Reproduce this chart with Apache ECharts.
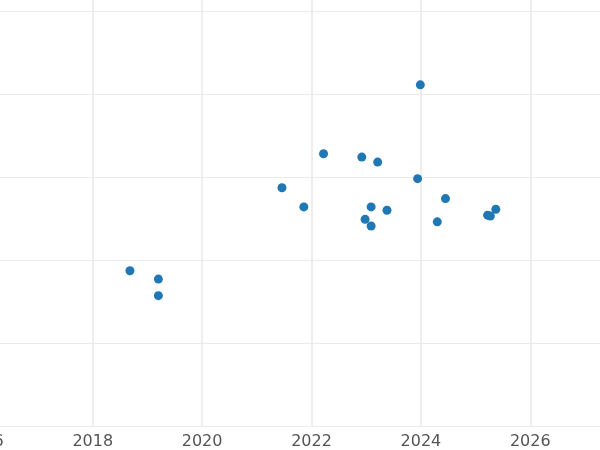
<!DOCTYPE html>
<html>
<head>
<meta charset="utf-8">
<script src="https://cdn.jsdelivr.net/npm/echarts@6/dist/echarts.min.js"></script>
</head>
<body style="margin:0px;overflow:hidden;">
<div style="width:600px;height:450px;overflow:hidden;position:relative;">
<div id="main" style="width:703px;height:522px;position:absolute;left:-40px;top:-72px;"></div>
</div>
<script type="text/javascript">
var years = [2018.68, 2019.2, 2019.2, 2021.46, 2021.86, 2022.22, 2022.92, 2023.21, 2023.09, 2022.98,
             2023.09, 2023.38, 2023.94, 2023.99, 2024.45, 2024.3, 2025.22, 2025.27, 2025.37];
var values = [1.87, 1.77, 1.57, 2.87, 2.64, 3.28, 3.24, 3.18, 2.64, 2.49,
              2.41, 2.60, 2.98, 4.11, 2.74, 2.46, 2.54, 2.53, 2.61];

var points = years.map(function (y, i) { return [y, values[i]]; });

var chart = echarts.init(document.getElementById('main'));
chart.setOption({
    animation: false,
    grid: { left: 0, right: 0, top: 0, bottom: 24 },
    xAxis: {
        type: 'value', min: 2016, max: 2028, interval: 2,
        axisLine: { show: false }, axisTick: { show: false },
        axisLabel: { color: '#555', fontSize: 16, margin: 8, fontFamily: 'DejaVu Sans',
                     formatter: function (v) { return String(v); } },
        splitLine: { lineStyle: { color: '#e8e8e8', width: 1.5 } }
    },
    yAxis: {
        type: 'value', min: 0, max: 6, interval: 1,
        axisLine: { show: false }, axisTick: { show: false },
        axisLabel: { show: false },
        splitLine: { lineStyle: { color: '#ebebeb' } }
    },
    series: [{
        type: 'scatter',
        data: points,
        symbolSize: 9,
        itemStyle: { color: '#1f77b4', opacity: 1 }
    }]
});
</script>
</body>
</html>
